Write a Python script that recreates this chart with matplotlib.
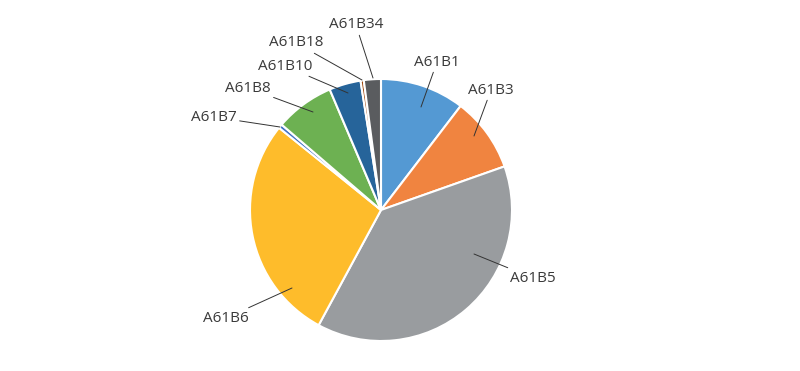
import numpy as np
import matplotlib
matplotlib.use("Agg")
import matplotlib.pyplot as plt

labels = ["A61B1", "A61B3", "A61B5", "A61B6", "A61B7", "A61B8", "A61B10", "A61B18", "A61B34"]
values = [10.4, 9.2, 38.3, 27.9, 0.5, 7.3, 3.9, 0.4, 2.1]
colors = ["#5499d3", "#f08440", "#999c9f", "#febc2b", "#4472c4", "#6db152", "#26649a", "#9e480e", "#5a5c5f"]

# layout (pixel coordinates of the label centres and leader-line anchors)
text_px = [(437, 62), (491, 90), (533, 278), (226, 318), (214, 117),
           (248, 88), (285, 66), (296, 43), (356, 25)]
anchor_px = [(421, 107), (474, 136), (474, 254), (292, 288), (280, 127),
             (313, 112), (348, 93), (362, 80), (373, 78)]

W, H = 800, 371
R = 131.0
cx, cy = 381.0, 210.0

def to_data(p):
    return ((p[0] - cx) / R, (cy - p[1]) / R)

fig = plt.figure(figsize=(W / 100, H / 100), dpi=100)
ax = fig.add_axes([0, 0, 1, 1])

wedges, _ = ax.pie(values, colors=colors, startangle=90, counterclock=False,
                   radius=1.0, center=(0, 0), frame=True,
                   wedgeprops=dict(edgecolor="white", linewidth=1.5))
ax.set_xlim(-cx / R, (W - cx) / R)
ax.set_ylim(-(H - cy) / R, cy / R)
ax.set_aspect("equal")
ax.axis("off")

for lab, tp, ap in zip(labels, text_px, anchor_px):
    ax.annotate(lab, xy=to_data(ap), xytext=to_data(tp), ha="center", va="center",
                fontsize=11, color="#3a3a3a", family="Open Sans",
                arrowprops=dict(arrowstyle="-", color="#333333", lw=0.7,
                                shrinkA=0, shrinkB=0))

fig.savefig("out.png", dpi=100)
